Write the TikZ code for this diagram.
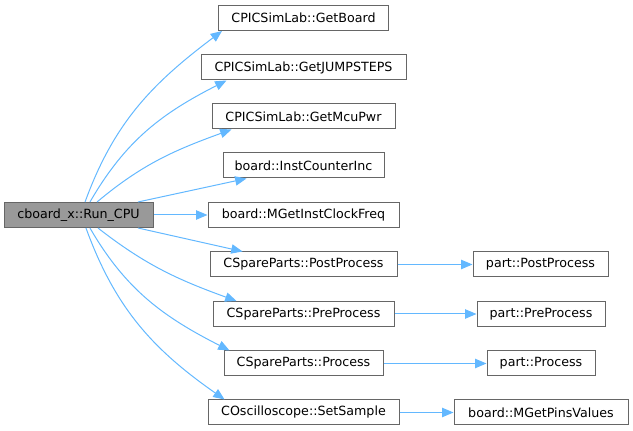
\documentclass[tikz,border=0pt]{standalone}
\usepackage{fontspec}
\setmainfont{DejaVu Sans}
\usepackage{tikz}
\usetikzlibrary{arrows.meta}
\usepackage{xcolor}
\definecolor{edgeblue}{HTML}{63B8FF}
\definecolor{boxline}{HTML}{666666}
\definecolor{rootfill}{HTML}{999999}

\begin{document}
\begin{tikzpicture}[x=0.75pt,y=0.75pt,font=\fontsize{9.5pt}{11pt}\selectfont,
  box/.style={draw=boxline,line width=0.75pt,fill=white,inner xsep=0pt,inner ysep=0pt,minimum height=18.75pt},
  rootbox/.style={box,fill=rootfill},
  edge/.style={draw=edgeblue,line width=0.75pt,-{Triangle[length=8.5pt,width=7pt]}}]
\useasboundingbox (0,0) rectangle (633,431);
\node[rootbox,minimum width=111.75pt] (root) at (78.5,216) {cboard\_x::Run\_CPU};
\node[box,minimum width=127.5pt] (getboard) at (303.5,413) {CPICSimLab::GetBoard};
\node[box,minimum width=153.75pt] (jumpsteps) at (303.5,363.5) {CPICSimLab::GetJUMPSTEPS};
\node[box,minimum width=137.25pt] (mcupwr) at (303.5,314.5) {CPICSimLab::GetMcuPwr};
\node[box,minimum width=120.75pt] (instinc) at (303.5,265.5) {board::InstCounterInc};
\node[box,minimum width=143.25pt] (clockfreq) at (303.5,216) {board::MGetInstClockFreq};
\node[box,minimum width=140.25pt] (postproc) at (303.5,166.5) {CSpareParts::PostProcess};
\node[box,minimum width=135.75pt] (preproc) at (303.5,117) {CSpareParts::PreProcess};
\node[box,minimum width=119.25pt] (proc) at (303.5,67.5) {CSpareParts::Process};
\node[box,minimum width=143.25pt] (setsample) at (303.5,18.5) {COscilloscope::SetSample};
\node[box,minimum width=101.25pt] (partpost) at (540.5,166.5) {part::PostProcess};
\node[box,minimum width=96pt] (partpre) at (541,117) {part::PreProcess};
\node[box,minimum width=81pt] (partproc) at (541,67.5) {part::Process};
\node[box,minimum width=130.5pt] (pinsvalues) at (541,18.5) {board::MGetPinsValues};
\draw[edge] ([xshift=4.9pt]root.north) to[out=70,in=217] ([xshift=3pt]getboard.south west);
\draw[edge] ([xshift=8.6pt]root.north) to[out=60,in=207] ([xshift=19.5pt]jumpsteps.south west);
\draw[edge] ([xshift=13.9pt]root.north) to[out=40,in=200] ([xshift=15pt]mcupwr.south west);
\draw[edge] ([xshift=44.6pt]root.north) -- ([xshift=18pt]instinc.south west);
\draw[edge] (root) -- (clockfreq);
\draw[edge] ([xshift=44.6pt]root.south) -- ([xshift=24.8pt]postproc.north west);
\draw[edge] ([xshift=14.6pt]root.south) to[out=-38,in=160] ([xshift=18pt]preproc.north west);
\draw[edge] ([xshift=8.6pt]root.south) to[out=-60,in=153] ([xshift=4.5pt]proc.north west);
\draw[edge] ([xshift=5.6pt]root.south) to[out=-70,in=145] ([xshift=12.8pt]setsample.north west);
\draw[edge] (postproc) -- (partpost);
\draw[edge] (preproc) -- (partpre);
\draw[edge] (proc) -- (partproc);
\draw[edge] (setsample) -- (pinsvalues);
\end{tikzpicture}
\end{document}
